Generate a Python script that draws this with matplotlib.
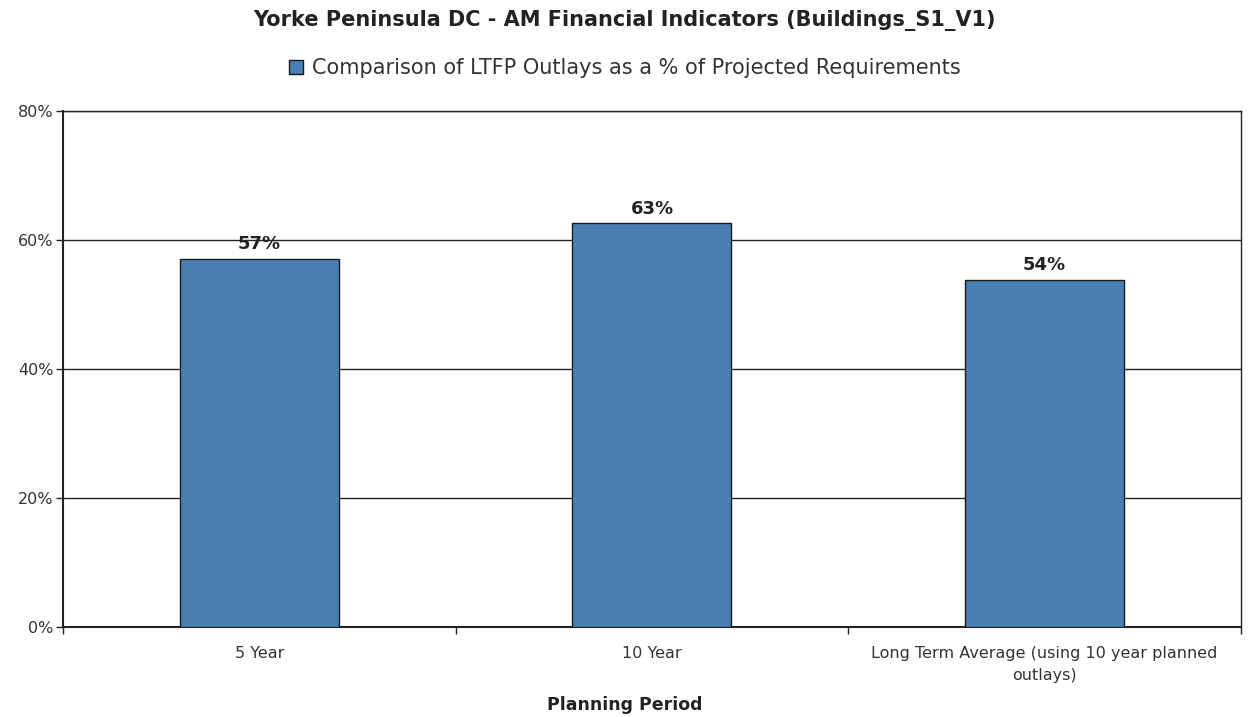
import numpy as np
import matplotlib.pyplot as plt
from matplotlib.patches import Patch

# Planning period categories and LTFP outlay ratios (% of projected requirements)
periods = ["5 Year", "10 Year", "Long Term Average (using 10 year planned\noutlays)"]
ratios = [57.1, 62.6, 53.8]
y_ticks = [0, 20, 40, 60, 80]

bar_color = "#4a7fb5"

fig = plt.figure(figsize=(12.49, 7.17), dpi=100)
ax = fig.add_axes([0.0505, 0.1255, 0.9430, 0.7197])

x = np.arange(len(periods))
bars = ax.bar(x, ratios, width=0.405, color=bar_color, edgecolor="#1a1a1a",
              linewidth=1.0, zorder=3)

for rect, v in zip(bars, ratios):
    ax.annotate(f"{round(v):d}%", (rect.get_x() + rect.get_width() / 2, v),
                xytext=(0, 4), textcoords="offset points", ha="center", va="bottom",
                fontsize=13, fontweight="bold", color="#222222", zorder=4)

ax.set_xlim(-0.5, len(periods) - 0.5)
ax.set_ylim(0, 80)
ax.set_yticks(y_ticks)
ax.set_yticklabels([f"{t}%" for t in y_ticks], fontsize=11.5, color="#333333")
ax.yaxis.grid(True, color="#222222", linewidth=1.0, zorder=0)
ax.tick_params(axis="y", length=5, width=1, direction="out", color="#222222", pad=2)

# category labels centred under bars, tick marks between categories
ax.set_xticks(x)
ax.set_xticklabels(periods, fontsize=11.5, color="#333333", linespacing=1.55)
ax.tick_params(axis="x", length=0, pad=14)
ax.set_xticks(np.arange(len(periods) + 1) - 0.5, minor=True)
ax.tick_params(axis="x", which="minor", length=5, width=1, color="#222222")

for s in ax.spines.values():
    s.set_color("#222222")
    s.set_linewidth(1.0)
ax.spines["left"].set_linewidth(1.5)
ax.spines["bottom"].set_linewidth(1.5)

fig.text(0.5, 0.017, "Planning Period", ha="center", va="center",
         fontsize=12.5, fontweight="bold", color="#222222")

fig.text(0.5, 0.971, "Yorke Peninsula DC - AM Financial Indicators (Buildings_S1_V1)",
         ha="center", va="center", fontsize=15, fontweight="bold", color="#222222")

handle = Patch(facecolor=bar_color, edgecolor="#1a1a1a", linewidth=1.0)
fig.legend([handle], ["Comparison of LTFP Outlays as a % of Projected Requirements"],
           loc="center", bbox_to_anchor=(0.5, 0.905), frameon=False, fontsize=15,
           handlelength=0.7, handleheight=0.7, handletextpad=0.4,
           labelcolor="#333333")

fig.savefig("out.png", dpi=100, facecolor="white")
